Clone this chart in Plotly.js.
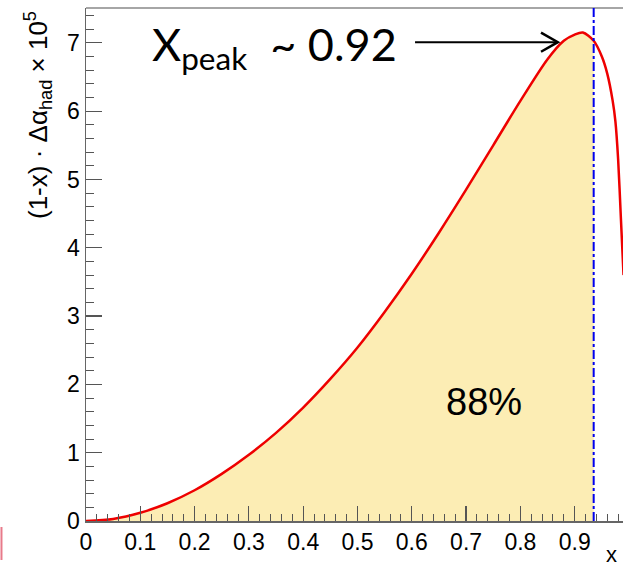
<!DOCTYPE html>
<html>
<head>
<meta charset="utf-8">
<script src="https://cdn.plot.ly/plotly-3.0.1.min.js"></script>
<style>html,body{margin:0;padding:0;background:#fff;}#chart{width:623px;height:567px;}</style>
</head>
<body>
<div id="chart"></div>
<script>
// ---- data ----
var xVals = [0.00, 0.05, 0.10, 0.15, 0.20, 0.25, 0.30, 0.35, 0.40, 0.45, 0.50, 0.55, 0.60, 0.65, 0.70, 0.75, 0.80, 0.85, 0.88, 0.90, 0.915, 0.935, 0.95, 0.96, 0.97, 0.975, 0.98, 0.985, 0.99];
var yVals = [0.00, 0.03, 0.12, 0.26, 0.45, 0.69, 0.97, 1.29, 1.66, 2.08, 2.54, 3.06, 3.62, 4.22, 4.85, 5.50, 6.15, 6.76, 7.03, 7.12, 7.15, 7.03, 6.80, 6.55, 6.15, 5.85, 5.30, 4.45, 3.60];
var xCut = 0.935;                 // blue dash-dotted line, end of shaded area
var xTickVals = [0, 0.1, 0.2, 0.3, 0.4, 0.5, 0.6, 0.7, 0.8, 0.9];
var xTickText = ["0", "0.1", "0.2", "0.3", "0.4", "0.5", "0.6", "0.7", "0.8", "0.9"];
var yTickVals = [0, 1, 2, 3, 4, 5, 6, 7];
var yTickText = ["0", "1", "2", "3", "4", "5", "6", "7"];
var peakText = "X<sub>peak</sub>\u00a0 ~\u00a00.92";
var fractionText = "88%";
var xTitle = "x";
var yTitle = "(1-x) · Δα<sub>had</sub> × 10<sup>5</sup>";
// arrow (data coordinates of the pointer)
var arrowFrom = [0.606, 7.01];
var arrowTo = [0.869, 7.01];

// ---- build traces ----
var fillX = [], fillY = [];
for (var i = 0; i < xVals.length; i++) {
  if (xVals[i] <= xCut + 1e-9) { fillX.push(xVals[i]); fillY.push(yVals[i]); }
}

var traces = [
  {x: fillX, y: fillY, type: 'scatter', mode: 'lines', fill: 'tozeroy',
   fillcolor: '#fcedb4', line: {color: 'rgba(0,0,0,0)', width: 0, shape: 'spline', smoothing: 0.8},
   hoverinfo: 'skip', showlegend: false},
  {x: xVals, y: yVals, type: 'scatter', mode: 'lines',
   line: {color: '#ee0000', width: 2.5, shape: 'spline', smoothing: 0.8},
   showlegend: false}
];

var tickFont = {family: 'Liberation Sans, Arial, sans-serif', size: 23, color: '#000'};

var layout = {
  width: 623, height: 567,
  margin: {l: 86, r: 0, t: 8, b: 46, pad: 0},
  paper_bgcolor: '#fff', plot_bgcolor: '#fff',
  showlegend: false,
  xaxis: {
    range: [0, 0.989], showgrid: false, zeroline: false,
    showline: true, linecolor: '#666', linewidth: 1.5,
    tickmode: 'array', tickvals: xTickVals, ticktext: xTickText,
    ticks: 'inside', ticklen: 15, tickwidth: 1.2, tickcolor: '#555',
    minor: {dtick: 0.02, ticks: 'inside', ticklen: 7.5, tickwidth: 1, tickcolor: '#555', showgrid: false},
    tickfont: tickFont
  },
  yaxis: {
    range: [0, 7.51], showgrid: false, zeroline: false,
    showline: true, linecolor: '#666', linewidth: 1.5,
    tickmode: 'array', tickvals: yTickVals, ticktext: yTickText,
    ticks: 'inside', ticklen: 16, tickwidth: 1.2, tickcolor: '#555',
    minor: {dtick: 0.2, ticks: 'inside', ticklen: 8, tickwidth: 1, tickcolor: '#555', showgrid: false},
    tickfont: tickFont
  },
  shapes: [
    // top frame line
    {type: 'line', xref: 'paper', yref: 'paper', x0: 0, x1: 1, y0: 1, y1: 1,
     line: {color: '#888', width: 1.5}},
    // vertical dash-dot line at the cut
    {type: 'line', xref: 'x', yref: 'paper', x0: xCut, x1: xCut, y0: 0, y1: 1,
     line: {color: '#0000ee', width: 2, dash: 'dashdot'}},
    // arrow shaft
    {type: 'line', xref: 'x', yref: 'y', x0: arrowFrom[0], y0: arrowFrom[1], x1: arrowTo[0], y1: arrowTo[1],
     line: {color: '#000', width: 2}},
    // arrow head (open V)
    {type: 'path', xref: 'x', yref: 'y',
     path: 'M ' + (arrowTo[0] - 0.031) + ',' + (arrowTo[1] + 0.14) + ' L ' + arrowTo[0] + ',' + arrowTo[1] +
           ' L ' + (arrowTo[0] - 0.031) + ',' + (arrowTo[1] - 0.14),
     line: {color: '#000', width: 2.5}},
    // small red mark at bottom left
    {type: 'line', xref: 'paper', yref: 'paper', x0: -0.1574, x1: -0.1574, y0: -0.0117, y1: -0.076,
     line: {color: '#e87a8a', width: 2}}
  ],
  annotations: [
    {text: yTitle, textangle: -90, xref: 'paper', yref: 'paper', x: -0.0894, y: 0.998,
     xanchor: 'center', yanchor: 'top', showarrow: false,
     font: {family: 'Liberation Sans, Arial, sans-serif', size: 26, color: '#000'}},
    {text: xTitle, xref: 'paper', yref: 'paper', x: 0.978, y: -0.066,
     xanchor: 'center', yanchor: 'middle', showarrow: false,
     font: {family: 'Liberation Sans, Arial, sans-serif', size: 22, color: '#000'}},
    {text: peakText, xref: 'paper', yref: 'paper', x: 0.119, y: 0.924,
     xanchor: 'left', yanchor: 'middle', showarrow: false,
     font: {family: 'Lato, Carlito, sans-serif', size: 45, color: '#000'}},
    {text: fractionText, xref: 'paper', yref: 'paper', x: 0.741, y: 0.232,
     xanchor: 'center', yanchor: 'middle', showarrow: false,
     font: {family: 'Liberation Sans, Arial, sans-serif', size: 38, color: '#000'}}
  ]
};

Plotly.newPlot('chart', traces, layout, {displayModeBar: false, staticPlot: true});
</script>
</body>
</html>
